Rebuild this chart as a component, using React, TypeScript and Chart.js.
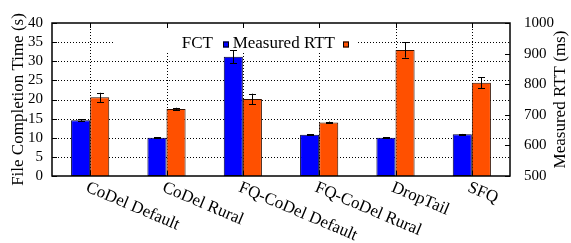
import React, { useEffect, useRef } from "react";
import { Chart, registerables } from "chart.js";

Chart.register(...registerables);

const categories = ["CoDel Default", "CoDel Rural", "FQ-CoDel Default", "FQ-CoDel Rural", "DropTail", "SFQ"];
const fctValues = [14.6, 10.0, 31.2, 10.8, 10.0, 10.9];
const fctErrors = [0.2, 0.1, 1.7, 0.1, 0.1, 0.1];
const rttValues = [757, 719, 752, 675, 912, 805];
const rttErrors = [15, 4, 17, 3, 25, 18];
const seriesLabels = ["FCT", "Measured RTT"];
const leftTitle = "File Completion Time (s)";
const rightTitle = "Measured RTT (ms)";

const FONT = "'Liberation Serif', 'Times New Roman', serif";
const BLUE = "#0000ff";
const ORANGE = "#ff5000";

const gnuplotPlugin = {
  id: "gnuplotStyle",
  beforeDatasetsDraw(chart: any) {
    const { ctx, chartArea: a, scales } = chart;
    const x = scales.x;
    const y = scales.y;
    ctx.save();
    ctx.strokeStyle = "#000";
    ctx.lineWidth = 1;
    ctx.setLineDash([1, 2]);
    y.ticks.forEach((t: any) => {
      const py = Math.round(y.getPixelForValue(t.value)) + 0.5;
      if (py <= a.top + 1 || py >= a.bottom - 1) return;
      ctx.beginPath();
      ctx.moveTo(a.left, py);
      ctx.lineTo(a.right, py);
      ctx.stroke();
    });
    categories.forEach((_, i) => {
      const px = Math.round(x.getPixelForValue(i)) + 0.5;
      ctx.beginPath();
      ctx.moveTo(px, a.top);
      ctx.lineTo(px, a.bottom);
      ctx.stroke();
    });
    ctx.setLineDash([]);
    const cx = (a.left + a.right) / 2;
    ctx.fillStyle = "#fff";
    ctx.fillRect(cx - 166, a.top + 6, 243, 24);
    ctx.restore();
  },
  afterDatasetsDraw(chart: any) {
    const { ctx, chartArea: a, scales } = chart;
    const x = scales.x;
    const y = scales.y;
    const y1 = scales.y1;
    ctx.save();
    const errs = [fctErrors, rttErrors];
    const vals = [fctValues, rttValues];
    const sc = [y, y1];
    ctx.strokeStyle = "#000";
    ctx.lineWidth = 1;
    [0, 1].forEach((d) => {
      const meta = chart.getDatasetMeta(d);
      meta.data.forEach((bar: any, i: number) => {
        const px = Math.round(bar.x) + 0.5;
        const top = sc[d].getPixelForValue(vals[d][i] + errs[d][i]);
        const bot = sc[d].getPixelForValue(vals[d][i] - errs[d][i]);
        ctx.beginPath();
        ctx.moveTo(px, top);
        ctx.lineTo(px, bot);
        ctx.moveTo(px - 3.5, Math.round(top) + 0.5);
        ctx.lineTo(px + 3.5, Math.round(top) + 0.5);
        ctx.moveTo(px - 3.5, Math.round(bot) + 0.5);
        ctx.lineTo(px + 3.5, Math.round(bot) + 0.5);
        ctx.stroke();
      });
    });
    ctx.lineWidth = 1.5;
    ctx.strokeRect(a.left, a.top, a.right - a.left, a.bottom - a.top);
    ctx.lineWidth = 1;
    ctx.beginPath();
    y.ticks.forEach((t: any) => {
      const py = Math.round(y.getPixelForValue(t.value)) + 0.5;
      ctx.moveTo(a.left, py);
      ctx.lineTo(a.left + 5, py);
    });
    y1.ticks.forEach((t: any) => {
      const py = Math.round(y1.getPixelForValue(t.value)) + 0.5;
      ctx.moveTo(a.right, py);
      ctx.lineTo(a.right - 5, py);
    });
    categories.forEach((_, i) => {
      const px = Math.round(x.getPixelForValue(i)) + 0.5;
      ctx.moveTo(px, a.top);
      ctx.lineTo(px, a.top + 5);
      ctx.moveTo(px, a.bottom);
      ctx.lineTo(px, a.bottom - 5);
    });
    ctx.stroke();

    // legend
    const cx = (a.left + a.right) / 2;
    ctx.font = `17px ${FONT}`;
    ctx.fillStyle = "#000";
    ctx.textAlign = "right";
    ctx.textBaseline = "alphabetic";
    const base = a.top + 24.5;
    ctx.fillText(seriesLabels[0], cx - 68, base);
    ctx.fillText(seriesLabels[1], cx + 54, base);
    const boxes = [
      { x: cx - 58, c: BLUE },
      { x: cx + 62, c: ORANGE },
    ];
    boxes.forEach((b) => {
      ctx.fillStyle = b.c;
      ctx.fillRect(b.x, base - 6, 6, 6);
      ctx.strokeStyle = "#000";
      ctx.lineWidth = 1;
      ctx.strokeRect(b.x + 0.5, base - 5.5, 5, 5);
    });

    // x labels rotated
    ctx.fillStyle = "#000";
    ctx.textAlign = "left";
    ctx.textBaseline = "top";
    categories.forEach((c, i) => {
      const px = x.getPixelForValue(i);
      ctx.save();
      ctx.translate(px, a.bottom + 3);
      ctx.rotate((23 * Math.PI) / 180);
      ctx.fillText(c, 0, 0);
      ctx.restore();
    });

    // axis titles
    ctx.textAlign = "center";
    ctx.textBaseline = "middle";
    const cy = (a.top + a.bottom) / 2;
    ctx.save();
    ctx.translate(18.5, cy);
    ctx.rotate(-Math.PI / 2);
    ctx.fillText(leftTitle, 0, 0);
    ctx.restore();
    ctx.save();
    ctx.translate(a.right + 51, cy);
    ctx.rotate(-Math.PI / 2);
    ctx.fillText(rightTitle, 0, 0);
    ctx.restore();
    ctx.restore();
  },
};

export default function App() {
  const ref = useRef<HTMLCanvasElement>(null);
  useEffect(() => {
    document.body.style.margin = "0";
    const chart = new Chart(ref.current!, {
      type: "bar",
      data: {
        labels: categories,
        datasets: [
          {
            label: seriesLabels[0],
            data: fctValues,
            backgroundColor: BLUE,
            borderColor: "#000033",
            borderWidth: 1,
            borderSkipped: false,
            yAxisID: "y",
            categoryPercentage: 0.5,
            barPercentage: 1.0,
          },
          {
            label: seriesLabels[1],
            data: rttValues,
            backgroundColor: ORANGE,
            borderColor: "#331000",
            borderWidth: 1,
            borderSkipped: false,
            yAxisID: "y1",
            categoryPercentage: 0.5,
            barPercentage: 1.0,
          },
        ] as any,
      },
      options: {
        animation: false,
        responsive: false,
        layout: { padding: { top: 17, left: 0, right: 0, bottom: 0 } },
        plugins: { legend: { display: false }, tooltip: { enabled: false } },
        scales: {
          x: {
            offset: true,
            grid: { display: false },
            border: { display: false },
            ticks: { display: false },
            afterFit: (s: any) => {
              s.height = 67;
            },
          },
          y: {
            position: "left",
            min: 0,
            max: 40,
            grid: { display: false, drawTicks: false },
            border: { display: false },
            ticks: {
              stepSize: 5,
              autoSkip: false,
              padding: 9,
              color: "#000",
              font: { family: FONT, size: 15 },
              callback: (v: any) => String(v),
            },
            afterFit: (s: any) => {
              s.width = 52;
            },
          },
          y1: {
            position: "right",
            min: 500,
            max: 1000,
            grid: { display: false, drawTicks: false },
            border: { display: false },
            ticks: {
              stepSize: 100,
              autoSkip: false,
              padding: 14,
              color: "#000",
              font: { family: FONT, size: 15 },
              callback: (v: any) => String(v),
            },
            afterFit: (s: any) => {
              s.width = 61;
            },
          },
        },
      },
      plugins: [gnuplotPlugin],
    });
    return () => chart.destroy();
  }, []);
  return (
    <div style={{ position: "absolute", left: 0, top: 0, width: 571, height: 243 }}>
      <canvas ref={ref} width={571} height={243} />
    </div>
  );
}
